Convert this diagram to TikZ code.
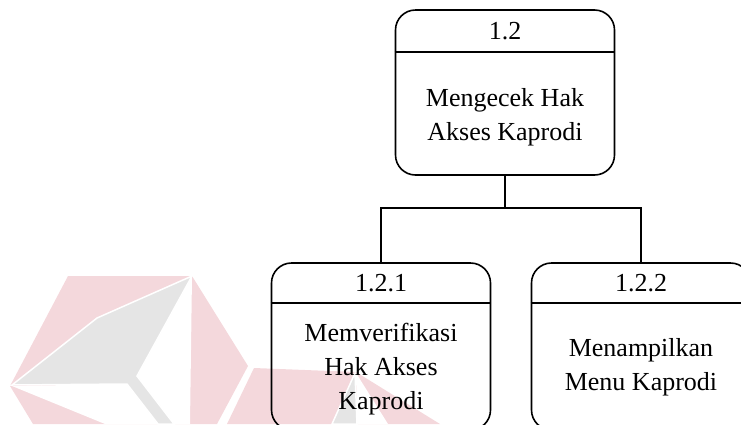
\documentclass[tikz,border=0pt]{standalone}
\usepackage{fontspec}
\setmainfont{Liberation Serif}
\definecolor{wmpink}{RGB}{244,216,220}
\definecolor{wmgray}{RGB}{229,229,229}
\begin{document}
\begin{tikzpicture}[x=1pt,y=-1pt,
  procbox/.style={draw=black, line width=1.6pt, rounded corners=20pt,
    inner sep=0pt, minimum width=219pt},
  divider/.style={draw=black, line width=1.3pt},
  link/.style={draw=black, line width=1.4pt},
  caption/.style={font=\fontsize{26}{34}\selectfont, align=center, inner sep=0pt},
  wmp/.style={fill=wmpink},
  wmg/.style={fill=wmgray, draw=white, line width=1.5pt},
  wmw/.style={fill=white}]
\useasboundingbox (0,0) rectangle (741,424);
\clip (0,0) rectangle (741,424);

% faint logo in the background
\path[wmp] (68,276) -- (192,276) -- (248,366) -- (217,424) -- (33,424) -- (10,386) -- cycle;
\path[wmw] (12,386) -- (127,384) -- (158,424) -- (105,424) -- cycle;
\path[wmw] (192,276) -- (137,376) -- (174,424) -- (190,424) -- cycle;
\path[wmg] (192,276) -- (97,318) -- (12,385) -- (127,384) -- (158,424) -- (174,424) -- (137,376) -- cycle;
\path[wmp] (254,368) -- (356,372) -- (440,424) -- (227,424) -- cycle;
\path[wmw] (356,373) -- (357,424) -- (388,424) -- cycle;
\path[wmg] (355,373) -- (332,424) -- (357,424) -- cycle;

% process boxes
\node[procbox, minimum height=165pt] (p12) at (505,92.5) {};
\node[procbox, minimum height=167pt] (p121) at (381,346.5) {};
\node[procbox, minimum height=167pt] (p122) at (641,346.5) {};

% header dividers
\draw[divider] (p12.west |- 0,52) -- (p12.east |- 0,52);
\draw[divider] (p121.west |- 0,303) -- (p121.east |- 0,303);
\draw[divider] (p122.west |- 0,303) -- (p122.east |- 0,303);

% labels
\node[caption] (t12) at (505,31) {1.2};
\node[caption] (d12) at (505,117) {Mengecek Hak\\Akses Kaprodi};
\node[caption] (t121) at (381,283) {1.2.1};
\node[caption] (d121) at (381,369) {Memverifikasi\\Hak Akses\\Kaprodi};
\node[caption] (t122) at (641,283) {1.2.2};
\node[caption] (d122) at (641,367) {Menampilkan\\Menu Kaprodi};

% decomposition connectors
\coordinate (jn) at (505,208);
\draw[link] (p12.south) -- (jn) -| (p121.north);
\draw[link] (jn) -| (p122.north);
\end{tikzpicture}
\end{document}
